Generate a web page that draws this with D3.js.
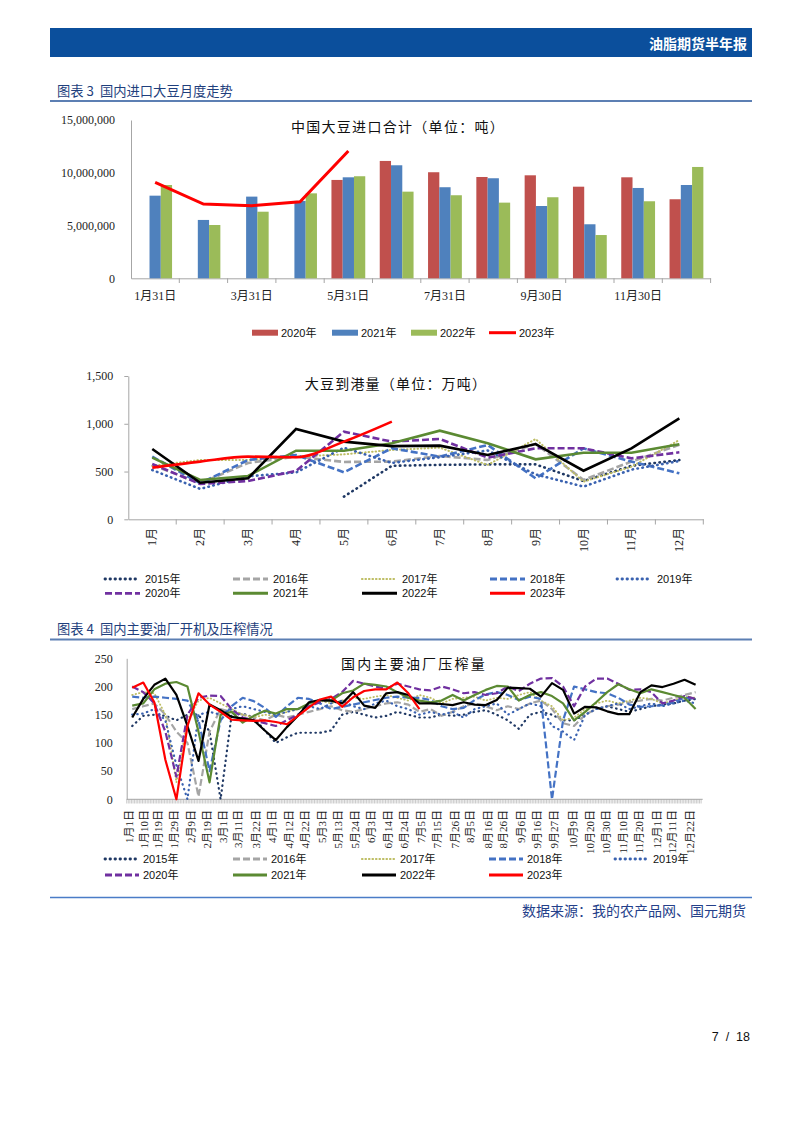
<!DOCTYPE html>
<html><head><meta charset="utf-8">
<script src="https://cdn.jsdelivr.net/npm/d3@7"></script>
<style>
body{margin:0;background:#fff;}
svg{display:block;}
</style></head><body>
<svg id="page" width="802" height="1133"></svg>
<script>
// ================= DATA =================
// Chart 1: monthly soybean imports (tons)
const importMonths = ["1月31日","2月28日","3月31日","4月30日","5月31日","6月30日","7月31日","8月31日","9月30日","10月31日","11月30日","12月31日"];
const importYears = ["2020年","2021年","2022年"];
const import2020 = [null,null,null,null,9320000,11120000,10050000,9600000,9760000,8680000,9570000,7490000];
const import2021 = [7830000,5530000,7740000,7330000,9570000,10710000,8630000,9480000,6850000,5120000,8560000,8840000];
const import2022 = [8840000,5050000,6310000,8050000,9670000,8210000,7870000,7170000,7680000,4100000,7300000,10550000];
const import2023 = [9100000,7040000,6880000,7260000,12070000];
const importTicks = [0,5000000,10000000,15000000];

// Chart 2: soybean arrivals (10k tons)
const arrivalMonths = ["1月","2月","3月","4月","5月","6月","7月","8月","9月","10月","11月","12月"];
const arrival2015 = [null,null,null,null,237,560,570,575,575,400,560,620];
const arrival2016 = [569,377,590,656,600,604,663,621,790,412,604,780];
const arrival2017 = [560,621,621,656,680,726,750,569,840,394,551,830];
const arrival2018 = [656,377,621,673,492,743,656,778,429,743,604,481];
const arrival2019 = [516,318,450,490,750,590,650,720,470,342,520,610];
const arrival2020 = [579,370,401,506,917,813,841,645,743,743,638,701];
const arrival2021 = [645,411,453,718,718,796,928,796,628,697,697,785];
const arrival2022 = [736,383,429,945,813,766,771,673,788,509,743,1057];
const arrival2023 = [541,604,656,650,813,1022];
const arrivalTicks = [0,500,1000,1500];

// Chart 3: weekly crush volume (10k tons)
const crushWeeks = ["01-04","01-11","01-18","01-25","02-01","02-08","02-15","02-22","03-01","03-08","03-15","03-22","03-29",
  "04-05","04-12","04-19","04-26","05-03","05-10","05-17","05-24","05-31","06-07","06-14","06-21","06-28",
  "07-05","07-12","07-19","07-26","08-02","08-09","08-16","08-23","08-30","09-06","09-13","09-20","09-27",
  "10-04","10-11","10-18","10-25","11-01","11-08","11-15","11-22","11-29","12-06","12-13","12-20","12-27"];
const crushLabels = ["1月1日","1月10日","1月19日","1月29日","2月9日","2月19日","3月1日","3月11日","3月22日","4月1日","4月12日","4月22日",
  "5月3日","5月13日","5月24日","6月3日","6月14日","6月24日","7月5日","7月15日","7月26日","8月5日","8月16日","8月26日",
  "9月6日","9月16日","9月27日","10月9日","10月20日","10月30日","11月10日","11月20日","12月1日","12月11日","12月22日"];
const crush2015 = [130,148,150,148,140,150,150,120,0,150,152,145,122,100,110,118,118,118,122,150,155,150,145,148,155,150,145,145,150,148,150,155,158,150,140,125,150,155,150,140,140,150,160,165,160,155,160,165,168,170,175,178];
const crush2016 = [160,165,170,150,120,100,5,120,160,155,150,145,140,150,145,150,155,160,165,158,155,160,165,170,172,168,155,160,148,155,165,170,165,158,165,160,170,175,160,135,130,150,160,165,168,172,175,178,175,180,185,190];
const crush2017 = [185,190,188,150,30,140,175,180,170,160,150,145,150,148,155,160,165,175,170,175,180,178,182,185,180,175,185,180,170,178,180,182,175,180,178,185,190,175,165,140,145,160,170,175,170,175,180,178,170,175,182,180];
const crush2018 = [182,180,182,180,178,175,140,50,140,165,180,174,162,146,165,180,178,170,160,164,168,172,176,180,182,180,180,176,165,160,162,176,186,190,185,176,182,178,0,140,200,195,190,188,180,168,164,165,167,172,180,178];
const crush2019 = [150,152,160,140,60,0,150,155,150,160,165,160,155,150,155,160,165,160,170,175,165,160,170,175,165,160,150,155,150,155,145,160,165,170,150,160,170,165,130,120,105,150,160,165,170,160,165,170,165,170,175,170];
const crush2020 = [200,190,170,120,40,150,180,184,183,160,145,140,135,130,140,150,165,172,178,190,210,205,200,196,205,200,195,193,200,195,188,190,185,188,200,192,205,214,215,200,165,200,214,214,205,194,195,190,170,175,183,178];
const crush2021 = [166,170,195,205,208,200,120,30,150,155,136,148,157,152,160,160,170,176,175,188,193,205,203,200,190,180,175,172,175,185,175,185,194,201,200,175,185,190,183,170,140,155,172,190,204,195,188,195,190,185,180,160];
const crush2022 = [145,178,203,214,185,130,68,168,158,146,143,140,122,105,128,148,172,176,175,170,190,166,162,188,190,185,170,170,169,167,172,168,167,176,198,197,196,182,206,194,152,164,163,156,151,151,190,202,199,205,212,203];
const crush2023 = [198,207,172,70,0,130,188,168,155,141,140,139,140,137,133,148,163,177,182,164,181,192,195,195,207,188,160];
const crushTicks = [0,50,100,150,200,250];

// ================= STYLES =================
const SERIF = "'Liberation Serif','Times New Roman','Noto Sans CJK SC',serif";
const SANS = "'Liberation Sans',Arial,'Noto Sans CJK SC',sans-serif";
const CJK = "'Noto Sans CJK SC','Noto Sans',sans-serif";
const AXIS = "#a6a6a6";
const yearStyles = {
  "2015年": {color:"#1f3864", dash:"0.5 4.5", cap:"round", w:2.4},
  "2016年": {color:"#a5a5a5", dash:"7 3", cap:"butt", w:2.4},
  "2017年": {color:"#bdbd63", dash:"0.5 3", cap:"round", w:1.8},
  "2018年": {color:"#4472c4", dash:"7 3", cap:"butt", w:2.4},
  "2019年": {color:"#3a62b0", dash:"0.5 4.5", cap:"round", w:2.4},
  "2020年": {color:"#7030a0", dash:"7 3", cap:"butt", w:2.4},
  "2021年": {color:"#5b8a32", dash:null, cap:"butt", w:2.4},
  "2022年": {color:"#000000", dash:null, cap:"butt", w:2.4},
  "2023年": {color:"#ff0000", dash:null, cap:"butt", w:2.6}
};

const svg = d3.select("#page");

// ================= PAGE FRAME =================
svg.append("rect").attr("x",50).attr("y",28).attr("width",702).attr("height",29).attr("fill","#0b4f9c");
svg.append("text").attr("x",747).attr("y",43).attr("text-anchor","end").attr("dominant-baseline","central")
  .attr("fill","#fff").attr("font-family",CJK).attr("font-size",14).attr("font-weight","bold").text("油脂期货半年报");

function heading(txt, y, ly){
  svg.append("text").attr("x",57).attr("y",y).attr("dominant-baseline","central")
    .attr("fill","#1f3f7d").attr("font-family",CJK).attr("font-size",13.3).text(txt);
  svg.append("line").attr("x1",50).attr("x2",752).attr("y1",ly).attr("y2",ly).attr("stroke","#5c7fb3").attr("stroke-width",2);
}
heading("图表\u00a03\u00a0\u00a0国内进口大豆月度走势", 90, 101);
heading("图表\u00a04\u00a0\u00a0国内主要油厂开机及压榨情况", 628.5, 639.5);

svg.append("line").attr("x1",50).attr("x2",752).attr("y1",897.5).attr("y2",897.5).attr("stroke","#4a7cc7").attr("stroke-width",1.5);
svg.append("text").attr("x",746).attr("y",909.5).attr("text-anchor","end").attr("dominant-baseline","central")
  .attr("fill","#24408a").attr("font-family",CJK).attr("font-size",14).text("数据来源：我的农产品网、国元期货");
svg.append("text").attr("x",750).attr("y",1037).attr("text-anchor","end").attr("dominant-baseline","central")
  .attr("fill","#111").attr("font-family",SANS).attr("font-size",12.5).text("7\u00a0\u00a0/\u00a0\u00a018");

function chartTitle(txt, x, y, ls){
  svg.append("text").attr("x",x).attr("y",y).attr("text-anchor","middle").attr("dominant-baseline","central")
    .attr("fill","#111").attr("font-family",CJK).attr("font-size",14).attr("letter-spacing",ls).text(txt);
}
function styleAxis(g){
  g.select(".domain").attr("stroke",AXIS);
  g.selectAll(".tick line").attr("stroke",AXIS);
  g.selectAll("text").attr("fill","#222");
}
function lineSwatch(g, x, y, name, len, tx){
  const s = yearStyles[name];
  g.append("line").attr("x1",x).attr("x2",x+len).attr("y1",y).attr("y2",y)
    .attr("stroke",s.color).attr("stroke-width",name==="2023年"||!s.dash?3:s.w+0.4)
    .attr("stroke-dasharray",s.dash).attr("stroke-linecap",s.cap);
  g.append("text").attr("x",x+tx).attr("y",y).attr("dominant-baseline","central")
    .attr("font-family",SANS).attr("font-size",11).attr("fill","#111").text(name);
}

// ================= CHART 1 =================
{
  const g = svg.append("g");
  const x0 = d3.scaleBand().domain(importMonths).range([131,710.6]).paddingInner(0.3).paddingOuter(0.15);
  const x1 = d3.scaleBand().domain(importYears).range([0,x0.bandwidth()]);
  const y = d3.scaleLinear().domain([0,15000000]).range([278.3,120]);
  const series = [import2020, import2021, import2022];
  const colors = ["#c0504d","#4f81bd","#9bbb59"];

  const ya = g.append("g").attr("transform","translate(131,0)")
    .call(d3.axisLeft(y).tickValues(importTicks).tickFormat(d3.format(",")).tickSize(0).tickPadding(16));
  ya.selectAll("text").attr("font-family",SERIF).attr("font-size",12);
  styleAxis(ya);

  const xa = g.append("g").attr("transform","translate(0,278.3)")
    .call(d3.axisBottom(x0).tickSize(0).tickPadding(13).tickFormat((d,i)=> i%2===0 ? d : ""));
  xa.selectAll("text").attr("font-family",SERIF).attr("font-size",12);
  styleAxis(xa);
  const step = x0.step();
  g.selectAll(".bt").data(importMonths).join("line")
    .attr("x1",d=>x0(d)+x0.bandwidth()/2+step/2).attr("x2",d=>x0(d)+x0.bandwidth()/2+step/2)
    .attr("y1",278.3).attr("y2",283).attr("stroke",AXIS);

  series.forEach((arr,si)=>{
    g.selectAll(".b"+si).data(arr.map((v,i)=>({m:importMonths[i],v}))).join("rect")
      .filter(d=>d.v!=null)
      .attr("x",d=>x0(d.m)+x1(importYears[si])).attr("width",x1.bandwidth())
      .attr("y",d=>y(d.v)).attr("height",d=>y(0)-y(d.v)).attr("fill",colors[si]);
  });
  const ln = d3.line().x((d,i)=>x0(importMonths[i])+x0.bandwidth()/2).y(d=>y(d));
  g.append("path").attr("d",ln(import2023)).attr("fill","none").attr("stroke","#ff0000").attr("stroke-width",3);

  chartTitle("中国大豆进口合计（单位：吨）", 398, 125.5, 1.3);

  const lg = g.append("g");
  const items = [["2020年","#c0504d",252],["2021年","#4f81bd",332],["2022年","#9bbb59",411]];
  items.forEach(([n,c,x])=>{
    lg.append("rect").attr("x",x).attr("y",329.7).attr("width",26).attr("height",6).attr("fill",c);
    lg.append("text").attr("x",x+29).attr("y",332.7).attr("dominant-baseline","central")
      .attr("font-family",SANS).attr("font-size",11).attr("fill","#111").text(n);
  });
  lg.append("line").attr("x1",489).attr("x2",516).attr("y1",332.7).attr("y2",332.7).attr("stroke","#ff0000").attr("stroke-width",3);
  lg.append("text").attr("x",519).attr("y",332.7).attr("dominant-baseline","central")
    .attr("font-family",SANS).attr("font-size",11).attr("fill","#111").text("2023年");
}

// ================= CHART 2 =================
{
  const g = svg.append("g");
  const x = d3.scaleBand().domain(arrivalMonths).range([128.3,703.3]);
  const y = d3.scaleLinear().domain([0,1500]).range([519.3,376]);
  const cx = m => x(m)+x.bandwidth()/2;

  const ya = g.append("g").attr("transform","translate(128.3,0)")
    .call(d3.axisLeft(y).tickValues(arrivalTicks).tickFormat(d3.format(",")).tickSizeInner(4).tickSizeOuter(0).tickPadding(11));
  ya.selectAll("text").attr("font-family",SERIF).attr("font-size",12);
  styleAxis(ya);

  const xa = g.append("g").attr("transform","translate(0,519.3)")
    .call(d3.axisBottom(x).tickSize(0).tickFormat(""));
  styleAxis(xa);
  g.selectAll(".bt").data(arrivalMonths).join("line")
    .attr("x1",d=>x(d)+x.bandwidth()).attr("x2",d=>x(d)+x.bandwidth())
    .attr("y1",519.3).attr("y2",524.5).attr("stroke",AXIS);
  g.selectAll(".xl").data(arrivalMonths).join("text")
    .attr("transform",d=>`translate(${cx(d)},528) rotate(-90)`)
    .attr("text-anchor","end").attr("dominant-baseline","central")
    .attr("font-family",SERIF).attr("font-size",12).attr("fill","#222").text(d=>d);

  const series = [["2015年",arrival2015],["2016年",arrival2016],["2017年",arrival2017],["2018年",arrival2018],["2019年",arrival2019],
    ["2020年",arrival2020],["2021年",arrival2021],["2022年",arrival2022],["2023年",arrival2023]];
  series.forEach(([n,arr])=>{
    const s = yearStyles[n];
    const ln = d3.line().defined(d=>d!=null).x((d,i)=>cx(arrivalMonths[i])).y(d=>y(d));
    if(n==="2023年") ln.curve(d3.curveMonotoneX);
    g.append("path").attr("d",ln(arr)).attr("fill","none").attr("stroke",s.color)
      .attr("stroke-width",n==="2017年"?2:2.6).attr("stroke-dasharray",s.dash).attr("stroke-linecap",s.cap);
  });

  chartTitle("大豆到港量（单位：万吨）", 396, 382.5, 1.2);

  const cols = [105,233,362,490,617];
  series.forEach(([n],i)=>{
    const r = i<5?0:1, c = i<5?i:i-5;
    lineSwatch(g, cols[c], r===0?579:593.3, n, 35, 40);
  });
}

// ================= CHART 3 =================
{
  const g = svg.append("g");
  const parseWk = d3.timeParse("%Y-%m-%d");
  const wkDates = crushWeeks.map(s=>d3.timeHour.offset(parseWk("1900-"+s),12));
  const lblDates = crushLabels.map(s=>{const m=s.match(/(\d+)月(\d+)日/);return d3.timeHour.offset(new Date(1900,+m[1]-1,+m[2]),12);});
  const x = d3.scaleTime().domain([new Date(1900,0,1),new Date(1901,0,1)]).range([126.7,702.7]);
  const y = d3.scaleLinear().domain([0,250]).range([799.3,658.3]);

  const ya = g.append("g").attr("transform","translate(126.7,0)")
    .call(d3.axisLeft(y).tickValues(crushTicks).tickSize(0).tickPadding(14));
  ya.selectAll("text").attr("font-family",SERIF).attr("font-size",12);
  styleAxis(ya);

  const days = d3.timeDay.range(new Date(1900,0,1),new Date(1901,0,1));
  g.selectAll(".mt").data(days).join("line")
    .attr("x1",d=>x(d)).attr("x2",d=>x(d)).attr("y1",799.3).attr("y2",803.5)
    .attr("stroke","#b5b5b5").attr("stroke-width",0.7);
  g.append("line").attr("x1",126.7).attr("x2",702.7).attr("y1",799.3).attr("y2",799.3).attr("stroke",AXIS);

  const series = [["2015年",crush2015],["2016年",crush2016],["2017年",crush2017],["2018年",crush2018],["2019年",crush2019],
    ["2020年",crush2020],["2021年",crush2021],["2022年",crush2022],["2023年",crush2023]];
  series.forEach(([n,arr])=>{
    const s = yearStyles[n];
    const ln = d3.line().defined(d=>d!=null).x((d,i)=>x(wkDates[i])).y(d=>y(d));
    g.append("path").attr("d",ln(arr)).attr("fill","none").attr("stroke",s.color)
      .attr("stroke-width",n==="2017年"?1.8:2.2).attr("stroke-dasharray",s.dash).attr("stroke-linecap",s.cap)
      .attr("stroke-linejoin","round");
  });

  g.selectAll(".xl").data(crushLabels).join("text")
    .attr("transform",(d,i)=>`translate(${x(lblDates[i])+2},810) rotate(-90)`)
    .attr("text-anchor","end").attr("dominant-baseline","central")
    .attr("font-family",SERIF).attr("font-size",11).attr("fill","#222").text(d=>d);

  chartTitle("国内主要油厂压榨量", 414, 663, 2.2);

  const cols = [105,233,362,489,615];
  series.forEach(([n],i)=>{
    const r = i<5?0:1, c = i<5?i:i-5;
    lineSwatch(g, cols[c], r===0?859:875, n, 34, 38);
  });
}
</script>
</body></html>
